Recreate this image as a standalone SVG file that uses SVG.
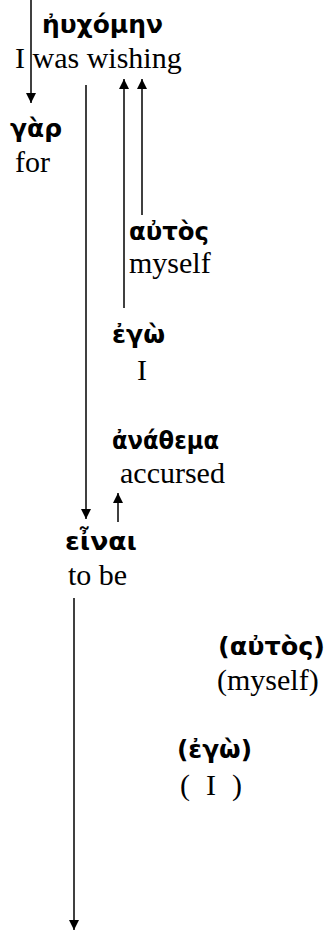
<svg xmlns="http://www.w3.org/2000/svg" width="326" height="931" viewBox="0 0 326 931">
<style>
.gr{font-family:"DejaVu Sans","Noto Sans",sans-serif;font-weight:bold;font-size:25px;fill:#000}
.en{font-family:"Liberation Serif","Times New Roman",serif;font-size:30px;fill:#000}
.c{stroke:#000;stroke-width:1.5;fill:none}
</style>
<defs>
<marker id="ah" markerUnits="userSpaceOnUse" markerWidth="10" markerHeight="10" viewBox="0 0 9 9" refX="9" refY="4.5" orient="auto">
<path d="M0,0 L9,4.5 L0,9 Z" fill="#000"/>
</marker>
</defs>
<rect width="326" height="931" fill="#fff"/>
<g id="connectors">
<line class="c" x1="31" y1="0" x2="31" y2="103" marker-end="url(#ah)"/>
<line class="c" x1="86" y1="85" x2="86" y2="519" marker-end="url(#ah)"/>
<line class="c" x1="124" y1="308" x2="124" y2="79" marker-end="url(#ah)"/>
<line class="c" x1="142" y1="215" x2="142" y2="79" marker-end="url(#ah)"/>
<line class="c" x1="118" y1="522" x2="118" y2="493" marker-end="url(#ah)"/>
<line class="c" x1="74" y1="598" x2="74" y2="930" marker-end="url(#ah)"/>
</g>
<g id="n1"><text class="gr" x="42" y="33" textLength="121" lengthAdjust="spacingAndGlyphs">ἠυχόμην</text><text class="en" x="15" y="68">I was wishing</text></g>
<g id="n2"><text class="gr" x="10" y="137" textLength="52" lengthAdjust="spacingAndGlyphs">γὰρ</text><text class="en" x="15" y="172">for</text></g>
<g id="n3"><text class="gr" x="129" y="240" textLength="80" lengthAdjust="spacingAndGlyphs">αὐτὸς</text><text class="en" x="129" y="273">myself</text></g>
<g id="n4"><text class="gr" x="112" y="343" textLength="53" lengthAdjust="spacingAndGlyphs">ἐγὼ</text><text class="en" x="137" y="380">I</text></g>
<g id="n5"><text class="gr" x="112" y="449" textLength="107" lengthAdjust="spacingAndGlyphs">ἀνάθεμα</text><text class="en" x="120" y="483">accursed</text></g>
<g id="n6"><text class="gr" x="65" y="550" textLength="72" lengthAdjust="spacingAndGlyphs">εἶναι</text><text class="en" x="68" y="585">to be</text></g>
<g id="n7"><text class="gr" x="218" y="655" textLength="107" lengthAdjust="spacingAndGlyphs">(αὐτὸς)</text><text class="en" x="217" y="690">(myself)</text></g>
<g id="n8"><text class="gr" x="177" y="758" textLength="75" lengthAdjust="spacingAndGlyphs">(ἐγὼ)</text><text class="en" x="180" y="795" textLength="62" lengthAdjust="spacing">( I )</text></g>
</svg>
